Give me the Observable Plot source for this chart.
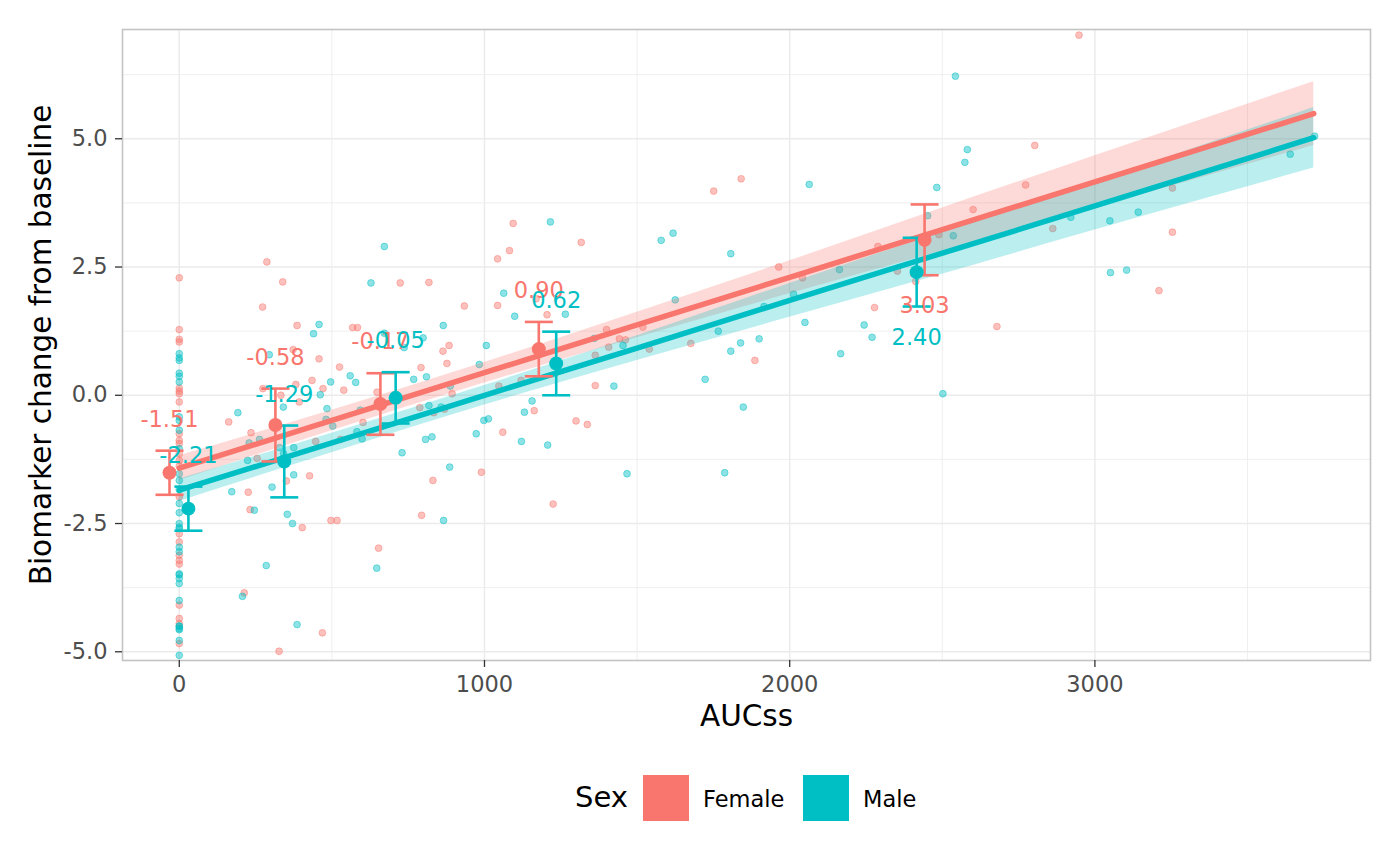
<!DOCTYPE html>
<html>
<head>
<meta charset="utf-8">
<script src="https://cdn.jsdelivr.net/npm/d3@7"></script>
<script src="https://cdn.jsdelivr.net/npm/@observablehq/plot@0.6"></script>
<style>
  body { margin: 0; background: #fff; font-family: "DejaVu Sans", sans-serif; position: relative; width: 1400px; height: 865px; overflow: hidden; }
  #chart svg { display: block; background: #fff; }
  .lg { position: absolute; line-height: 1; white-space: nowrap; color: #000; font-family: "DejaVu Sans", sans-serif; }
  .key { position: absolute; width: 46px; height: 46px; }
</style>
</head>
<body>
<div id="chart"></div>
<div class="lg" style="left:575px; top:783px; font-size:29px;">Sex</div>
<div class="key" style="left:643px; top:775px; background:#F8766D;"></div>
<div class="lg" style="left:703px; top:788px; font-size:22.5px;">Female</div>
<div class="key" style="left:803px; top:775px; background:#00BFC4;"></div>
<div class="lg" style="left:863px; top:788px; font-size:22.5px;">Male</div>
<script>
// ---------- data ----------
const sexes = ["Female", "Male"];
const sexColors = ["#F8766D", "#00BFC4"];

const femaleAUC = [
  0,0,0,0,0,0,0,0,0,0,0,0,0,0,0,0,0,0,0,0,0,0,0,0,
  287,339,273,386,568,584,724,818,373,458,525,435,471,382,274,333,393,539,864,884,877,792,648,894,788,834,602,528,447,162,235,255,
  427,351,226,232,403,497,517,831,794,653,213,469,327,
  1094,1317,1043,1082,934,1043,1169,1205,1400,1442,1462,1407,1363,1519,1540,1676,1886,1964,1047,1120,869,1060,1163,1363,1300,1337,990,1225,
  1751,1841,
  2803,2773,2601,2489,2289,2042,2353,2413,2278,2862,3254,3254,3210,2679,2948
];
const femaleChange = [
  2.29,1.28,1.09,1.04,0.14,0.08,0.03,-0.13,-0.75,-0.88,-0.94,-1.14,-1.27,-1.38,-1.98,-2.70,-2.86,-3.12,-3.22,-3.29,-4.09,-4.35,-4.45,-4.84,
  2.60,2.21,1.72,1.36,1.32,1.32,2.19,2.20,0.89,0.71,0.55,0.29,0.13,0.21,0.13,0.00,-0.13,0.10,0.86,0.97,0.62,0.54,0.06,0.03,-0.24,-0.34,-0.53,-0.86,-0.90,-0.52,-0.73,-1.23,
  -1.57,-1.67,-1.89,-2.23,-2.58,-2.44,-2.44,-1.66,-2.34,-2.98,-3.85,-4.63,-4.99,
  3.35,2.98,2.66,2.82,1.74,1.75,1.88,1.57,1.28,1.10,1.08,0.94,0.78,1.33,0.90,1.01,0.68,2.50,0.18,0.29,-0.27,-0.72,-0.30,0.19,-0.50,-0.57,-1.50,-2.12,
  3.98,4.22,
  4.87,4.10,3.62,3.13,2.90,2.29,2.42,2.22,1.71,3.25,4.04,3.18,2.04,1.34,7.02
];

const maleAUC = [
  0,0,0,0,0,0,0,0,0,0,0,0,0,0,0,0,0,0,0,0,0,0,0,0,0,0,0,0,0,0,0,
  628,458,440,295,672,737,799,865,560,578,496,462,341,192,484,481,503,593,582,599,768,810,818,858,888,807,828,730,886,229,263,224,329,342,375,
  375,172,304,246,354,371,866,285,647,207,386,
  672,
  1216,1579,1618,1807,1063,1099,1265,1006,983,1625,1360,1454,1766,1839,1900,1807,1916,2013,1424,1156,1131,1723,1848,998,1013,973,1121,1207,1467,1787,
  2582,2574,2064,2482,2452,2536,2163,2050,2244,2270,2167,2502,2921,3049,3142,3051,3104,2543,3640,3720
];
const maleChange = [
  0.81,0.73,0.68,0.43,0.37,0.26,-0.42,-0.49,-0.68,-1.04,-1.53,-1.66,-1.84,-2.11,-2.29,-2.50,-2.57,-2.96,-3.05,-3.48,-3.57,-3.67,-4.00,-4.50,-4.57,-4.78,-5.07,-2.60,-3.50,-4.55,-4.50,
  2.19,1.38,1.20,0.79,1.21,0.93,1.12,1.36,0.38,0.25,0.26,0.01,-0.23,-0.34,-0.26,-0.47,-0.60,-0.29,-0.71,-0.85,0.31,0.36,-0.20,-0.23,0.18,-0.86,-0.81,-1.12,-1.40,-0.93,-0.86,-1.27,-1.02,-1.14,-1.02,
  -1.55,-1.88,-1.79,-2.24,-2.32,-2.50,-2.44,-3.32,-3.37,-3.92,-4.47,
  2.90,
  3.38,3.02,3.16,2.76,1.99,1.54,1.58,0.97,0.60,1.86,1.11,0.97,1.25,1.02,1.10,0.86,1.73,1.97,0.18,-0.11,-0.33,0.31,-0.23,-0.49,-0.46,-0.75,-0.90,-0.97,-1.53,-1.51,
  4.79,4.54,4.11,4.05,3.50,3.11,2.45,1.42,1.37,1.13,0.81,0.03,3.47,3.40,3.57,2.39,2.44,6.22,4.70,5.05
];

// linear fit with 95% band at these AUCss values
const fitAUC      = [0, 500, 1000, 1500, 2000, 2500, 3000, 3717];
const femaleFit   = [-1.42, -0.49, 0.44, 1.37, 2.30, 3.23, 4.16, 5.49];
const femaleLow   = [-1.66, -0.69, 0.24, 1.12, 1.98, 2.81, 3.65, 4.87];
const femaleHigh  = [-1.18, -0.29, 0.64, 1.62, 2.62, 3.65, 4.67, 6.11];
const maleFit     = [-1.85, -0.93, 0.00, 0.92, 1.85, 2.77, 3.69, 5.02];
const maleLow     = [-2.07, -1.12, -0.19, 0.68, 1.52, 2.36, 3.22, 4.43];
const maleHigh    = [-1.63, -0.74, 0.19, 1.16, 2.18, 3.18, 4.16, 5.61];

// binned means (mean +/- SE) per sex
const binSex   = ["Female","Female","Female","Female","Female","Male","Male","Male","Male","Male"];
const binAUC   = [-32, 315, 659, 1178, 2442, 30, 344, 709, 1235, 2416];
const binMean  = [-1.51, -0.58, -0.17, 0.90, 3.03, -2.21, -1.29, -0.05, 0.62, 2.40];
const binSE    = [0.43, 0.71, 0.60, 0.53, 0.69, 0.43, 0.70, 0.50, 0.62, 0.67];
const binLabelAbove = [true, true, true, true, false, true, true, true, true, false];

// axis ticks
const xTicks = [0, 1000, 2000, 3000];
const xMinor = [500, 1500, 2500, 3500];
const yTicks = [-5, -2.5, 0, 2.5, 5];
const yMinor = [-3.75, -1.25, 1.25, 3.75, 6.25];

// ---------- build tables ----------
const points = [
  ...femaleAUC.map((x, i) => ({auc: x, change: femaleChange[i], sex: "Female"})),
  ...maleAUC.map((x, i) => ({auc: x, change: maleChange[i], sex: "Male"}))
];
const fits = [
  ...fitAUC.map((x, i) => ({auc: x, fit: femaleFit[i], lo: femaleLow[i], hi: femaleHigh[i], sex: "Female"})),
  ...fitAUC.map((x, i) => ({auc: x, fit: maleFit[i], lo: maleLow[i], hi: maleHigh[i], sex: "Male"}))
];
const bins = binSex.map((s, i) => ({
  sex: s, auc: binAUC[i], mean: binMean[i],
  lo: binMean[i] - binSE[i], hi: binMean[i] + binSE[i],
  above: binLabelAbove[i], label: binMean[i].toFixed(2)
}));

const capSymbol = { draw(ctx, size) { ctx.moveTo(-14, 0); ctx.lineTo(14, 0); } };
const font = "DejaVu Sans";

const chart = Plot.plot({
  width: 1400,
  height: 750,
  marginLeft: 122,
  marginRight: 30,
  marginTop: 29,
  marginBottom: 90,
  style: { fontFamily: font, background: "#fff", overflow: "visible" },
  x: { domain: [-186, 3903] },
  y: { domain: [-5.17, 7.13] },
  color: { domain: sexes, range: sexColors },
  marks: [
    Plot.gridX(xMinor, { stroke: "#EBEBEB", strokeOpacity: 1, strokeWidth: 0.8 }),
    Plot.gridY(yMinor, { stroke: "#EBEBEB", strokeOpacity: 1, strokeWidth: 0.8 }),
    Plot.gridX(xTicks, { stroke: "#EBEBEB", strokeOpacity: 1, strokeWidth: 1.5 }),
    Plot.gridY(yTicks, { stroke: "#EBEBEB", strokeOpacity: 1, strokeWidth: 1.5 }),
    Plot.dot(points, {
      x: "auc", y: "change", r: 3.4,
      fill: "sex", fillOpacity: 0.45, stroke: "sex", strokeOpacity: 0.45, strokeWidth: 1
    }),
    Plot.areaY(fits, { x: "auc", y1: "lo", y2: "hi", fill: "sex", fillOpacity: 0.27, curve: "monotone-x" }),
    Plot.line(fits, { x: "auc", y: "fit", stroke: "sex", strokeWidth: 5.5 }),
    Plot.ruleX(bins, { x: "auc", y1: "lo", y2: "hi", stroke: "sex", strokeWidth: 2.6 }),
    Plot.dot(bins, { x: "auc", y: "hi", symbol: capSymbol, r: 5, stroke: "sex", fill: "none", strokeWidth: 2.6 }),
    Plot.dot(bins, { x: "auc", y: "lo", symbol: capSymbol, r: 5, stroke: "sex", fill: "none", strokeWidth: 2.6 }),
    Plot.dot(bins, { x: "auc", y: "mean", r: 7, fill: "sex", stroke: "none" }),
    Plot.text(bins.filter(d => d.above), { x: "auc", y: "hi", dy: -31, text: "label", fill: "sex", fontSize: 22.5 }),
    Plot.text(bins.filter(d => !d.above), { x: "auc", y: "lo", dy: 31, text: "label", fill: "sex", fontSize: 22.5 }),
    Plot.frame({ stroke: "#C4C4C4", strokeWidth: 1.6 }),
    Plot.axisX({ ticks: xTicks, tickFormat: d => String(d), tickSize: 7, tickPadding: 9, fontSize: 22.5,
                 fill: "#4D4D4D", stroke: "#333333", strokeWidth: 1.3, label: null }),
    Plot.axisY({ ticks: yTicks, tickFormat: d => d.toFixed(1), tickSize: 7, tickPadding: 8, fontSize: 22.5,
                 fill: "#4D4D4D", stroke: "#333333", strokeWidth: 1.3, label: null }),
    Plot.text(["AUCss"], { frameAnchor: "bottom", lineAnchor: "middle", dy: 56, fontSize: 29.5, fill: "#000" }),
    Plot.text(["Biomarker change from baseline"], { frameAnchor: "left", textAnchor: "middle", lineAnchor: "middle",
                 rotate: -90, dx: -81, fontSize: 29.5, fill: "#000" })
  ]
});
document.getElementById("chart").appendChild(chart);
</script>
</body>
</html>
